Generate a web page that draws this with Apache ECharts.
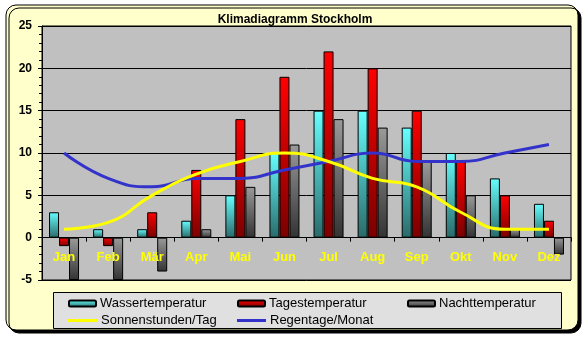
<!DOCTYPE html>
<html>
<head>
<meta charset="utf-8">
<script src="https://cdn.jsdelivr.net/npm/echarts@6/dist/echarts.min.js"></script>
<style>
html,body{margin:0;padding:0;background:#fff;}
#c{width:588px;height:337px;}
</style>
</head>
<body>
<div id="c"></div>
<script>
const months = ['Jan','Feb','Mär','Apr','Mai','Jun','Jul','Aug','Sep','Okt','Nov','Dez'];
const wasser = [3,1,1,2,5,10,15,15,13,10,7,4];
const tages  = [-1,-1,3,8,14,19,22,20,15,9,5,2];
const nacht  = [-5,-5,-4,1,6,11,14,13,9,5,1,-2];
const sonne  = [1,1.8,5,7.5,9,10,9,7,6,3,1,1];
const regen  = [10,7,6,7,7,8,9,10,9,9,10,11];
const yTicks = [-5,0,5,10,15,20,25];

const FONT = '"Liberation Sans", Arial, sans-serif';
function grad(top, bottom){
  return {type:'linear',x:0,y:0,x2:0,y2:1,colorStops:[{offset:0,color:top},{offset:1,color:bottom}]};
}
const cWasser = grad('#66FFFF','#2A6A6A');
const cTages = grad('#FF0000','#7A0000');
const cNacht = grad('#9A9A9A','#333333');

const GRID_TOP = 26, GRID_BOTTOM = 57, H = 337;
const yMin = yTicks[0], yMax = yTicks[yTicks.length-1];
const plotH = H - GRID_TOP - GRID_BOTTOM;
const zeroOffset = -plotH * (0 - yMin) / (yMax - yMin);

function leg(name, left, top, isLine, color){
  const o = {
    data:[ isLine ? {name:name, icon:'rect', itemStyle:{color:color, borderWidth:0}} : name ],
    left:left, top:top, padding:0, itemGap:0,
    itemWidth: isLine ? 29 : 27, itemHeight: isLine ? 3 : 6,
    textStyle:{fontFamily:FONT,fontSize:13,color:'#000',padding:[0,0,0,-1]},
    selectedMode:false
  };
  return o;
}

const chart = echarts.init(document.getElementById('c'), null, {renderer:'canvas'});
chart.setOption({
  animation:false,
  backgroundColor:'#ffffff',
  graphic:{elements:[
    {type:'rect', z:-10, shape:{x:6,y:5,width:572,height:325,r:10},
     style:{fill:'#FFFFCC',stroke:'#000',lineWidth:1,shadowColor:'#000',shadowOffsetX:3,shadowOffsetY:3,shadowBlur:0}},
    {type:'rect', z:-9, shape:{x:53.5,y:292.5,width:508,height:36},
     style:{fill:'#E0E0E0',stroke:'#000',lineWidth:1}}
  ]},
  title:{text:'Klimadiagramm Stockholm', left:290, textAlign:'center', top:9,
    textStyle:{fontFamily:FONT,fontSize:12,fontWeight:'bold',color:'#000'}},
  legend:[
    leg('Wassertemperatur',68,297,false),
    leg('Tagestemperatur',237,297,false),
    leg('Nachttemperatur',407,297,false),
    leg('Sonnenstunden/Tag',68,314,true,'#FFFF00'),
    leg('Regentage/Monat',237,314,true,'#3333CC')
  ],
  grid:{left:42,top:GRID_TOP,right:17,bottom:GRID_BOTTOM,show:true,backgroundColor:'#C0C0C0',borderColor:'#000',borderWidth:1,containLabel:false},
  xAxis:{type:'category',data:months,position:'bottom',offset:zeroOffset,z:10,
    axisLine:{onZero:false,lineStyle:{color:'#000',width:1}},
    axisTick:{show:true,alignWithLabel:false,length:4,lineStyle:{color:'#000'}},
    axisLabel:{color:'#FFFF00',fontFamily:FONT,fontSize:13,fontWeight:'bold',margin:13},
    splitLine:{show:false}},
  yAxis:{type:'value',min:yMin,max:yMax,interval:5,
    axisLine:{show:true,lineStyle:{color:'#000'}},
    axisTick:{show:true,length:4,lineStyle:{color:'#000'}},
    minorTick:{show:true,splitNumber:5,length:3,lineStyle:{color:'#000'}},
    axisLabel:{color:'#000',fontFamily:FONT,fontSize:12,fontWeight:'bold',margin:10},
    splitLine:{show:true,lineStyle:{color:'#000',width:1}}},
  series:[
    {name:'Wassertemperatur',type:'bar',data:wasser,barWidth:10,barGap:'0%',
      itemStyle:{color:cWasser,borderColor:'#000',borderWidth:1}},
    {name:'Tagestemperatur',type:'bar',data:tages,barWidth:10,barGap:'0%',
      itemStyle:{color:cTages,borderColor:'#000',borderWidth:1}},
    {name:'Nachttemperatur',type:'bar',data:nacht,barWidth:10,barGap:'0%',
      itemStyle:{color:cNacht,borderColor:'#000',borderWidth:1}},
    {name:'Sonnenstunden/Tag',type:'line',data:sonne,smooth:0.5,symbol:'none',z:5,
      lineStyle:{color:'#FFFF00',width:3},itemStyle:{color:'#FFFF00'}},
    {name:'Regentage/Monat',type:'line',data:regen,smooth:0.5,symbol:'none',z:4,
      lineStyle:{color:'#3333CC',width:3},itemStyle:{color:'#3333CC'}}
  ]
});
</script>
</body>
</html>
